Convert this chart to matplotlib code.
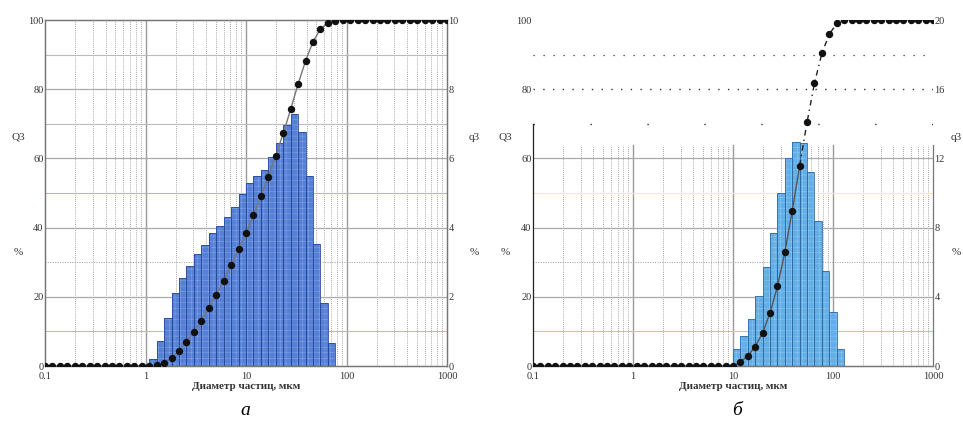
import numpy as np
import matplotlib
matplotlib.use("Agg")
import matplotlib.pyplot as plt
import matplotlib.transforms as mtransforms

plt.rcParams['font.family'] = ['Liberation Serif', 'DejaVu Serif']
plt.rcParams['hatch.linewidth'] = 0.35

# Классы крупности (мкм), общие для обоих анализов
sizes = [0.1, 0.1186, 0.1406, 0.1668, 0.1978, 0.2346, 0.2783, 0.33, 0.3914, 0.4642,
         0.5506, 0.653, 0.7745, 0.9186, 1.0895, 1.292, 1.532, 1.818, 2.154, 2.555,
         3.03, 3.594, 4.263, 5.056, 5.995, 7.111, 8.434, 10.0, 11.86, 14.06,
         16.68, 19.78, 23.46, 27.83, 33.0, 39.14, 46.42, 55.06, 65.3, 77.45,
         91.86, 108.9, 129.2, 153.2, 181.8, 215.4, 255.5, 303.0, 359.4, 426.3,
         505.6, 599.5, 711.1, 843.4, 1000.0]

# а: интегральная кривая Q3 (%) и гистограмма q3 (%)
Q3_a = [0.0] * 15 + [0.3, 0.9, 2.3, 4.4, 7.0, 9.8, 13.1, 16.8, 20.6, 24.6,
                     29.2, 33.8, 38.3, 43.6, 49.1, 54.7, 60.8, 67.2, 74.2, 81.5,
                     88.2, 93.7, 97.4, 99.2, 99.8] + [100.0] * 15
q3_a_start = 14
q3_a = [0.2, 0.73, 1.39, 2.10, 2.55, 2.90, 3.24, 3.51, 3.83, 4.06, 4.30, 4.60, 4.97,
        5.29, 5.49, 5.66, 6.05, 6.45, 6.96, 7.28, 6.77, 5.49, 3.53, 1.81, 0.66]

# б
Q3_b = [0.0] * 28 + [1.2, 2.9, 5.6, 9.6, 15.3, 23.0, 32.9, 44.9, 57.9, 70.5,
                     81.8, 90.4, 95.9, 99.0] + [100.0] * 13
q3_b_start = 27
q3_b = [0.97, 1.73, 2.70, 4.05, 5.74, 7.67, 9.98, 12.0, 12.97, 12.87, 11.2, 8.4,
        5.5, 3.1, 1.0]

xticks = [0.1, 1, 10, 100, 1000]
xticklabels = ['0.1', '1', '10', '100', '1000']

fig = plt.figure(figsize=(9.63, 4.23), dpi=100)


def draw_panel(rect, Q3, q3, start, q3max, q3step, barcolor, hatchcolor, edgecolor,
               hlines, vtop=1.0, damaged=False):
    ax = fig.add_axes(rect)
    ax2 = ax.twinx()
    ax.set_zorder(ax2.get_zorder() + 1)
    ax.patch.set_visible(False)

    ax.set_xscale('log')
    ax.set_xlim(0.1, 1000)
    ax.set_ylim(0, 100)
    ax2.set_ylim(0, q3max)

    # сетка
    trans = mtransforms.blended_transform_factory(ax2.transAxes, ax.transData)
    for dec in [0.1, 1, 10, 100]:
        for m in range(2, 10):
            ax2.axvline(dec * m, ymax=vtop, color='#8a8a8a', lw=0.6,
                        ls=(0, (1, 1.5)), zorder=0)
    for dec in [1, 10, 100]:
        ax2.axvline(dec, ymax=vtop, color='#9a9a9a', lw=1.0, zorder=0)
    for y, col, ls, lw in hlines:
        ax2.plot([0, 1], [y, y], transform=trans, color=col, ls=ls, lw=lw, zorder=0)

    # гистограмма
    edges = sizes[start:start + len(q3) + 1]
    left = edges[:-1]
    width = [edges[i + 1] - edges[i] for i in range(len(q3))]
    ax2.bar(left, q3, width=width, align='edge', color=barcolor,
            edgecolor=hatchcolor, lw=0, hatch='+++', zorder=2)
    ax2.bar(left, q3, width=width, align='edge', fill=False,
            edgecolor=edgecolor, lw=0.6, zorder=3)

    # интегральная кривая
    if damaged:
        cut = 37
        ax.plot(sizes[:cut], Q3[:cut], color='#555555', lw=1.0, zorder=4)
        ax.plot(sizes[cut - 1:], Q3[cut - 1:], color='#222222', lw=1.0,
                ls=(0, (4, 3, 1, 3)), zorder=4)
        ax.plot(sizes, Q3, ls='none', marker='o', ms=4.3, color='#111111', zorder=5)
    else:
        ax.plot(sizes, Q3, color='#777777', lw=1.0, marker='o', ms=4.3,
                mfc='#111111', mec='#111111', zorder=5)

    ax.set_xticks(xticks)
    ax.set_xticklabels(xticklabels)
    ax.xaxis.set_minor_locator(matplotlib.ticker.NullLocator())
    ax.set_yticks(range(0, 101, 20))
    ax2.set_yticks(np.arange(0, q3max + 0.1, q3step))
    ax2.set_yticklabels([f'{int(v)}' for v in np.arange(0, q3max + 0.1, q3step)])
    ax.tick_params(axis='x', length=0, pad=4, labelsize=7.5, colors='#333333')
    ax.tick_params(axis='y', length=0, pad=1, labelsize=7.5, colors='#333333')
    ax2.tick_params(axis='y', length=0, pad=1, labelsize=7.5, colors='#333333')
    ax.set_xlabel('Диаметр частиц, мкм', fontsize=8, fontweight='bold',
                  color='#333333', labelpad=1)

    for a in (ax, ax2):
        for s in a.spines.values():
            s.set_color('#777777')
            s.set_linewidth(0.9)
    if damaged:
        for a in (ax, ax2):
            a.spines['top'].set_visible(False)
        ax.spines['left'].set_bounds(0, 70)
        ax2.spines['left'].set_visible(False)
        ax2.spines['right'].set_bounds(0, q3max * 0.64)
        ax.spines['right'].set_visible(False)
        ax.spines['left'].set_color('#222222')
    return ax, ax2


W, H = 963, 423
rect_a = [45 / W, 1 - 366 / H, 402 / W, 346 / H]
rect_b = [533 / W, 1 - 366 / H, 400 / W, 346 / H]

hl_a = [(20, '#aaaaaa', '-', 0.9), (40, '#aaaaaa', '-', 0.9), (60, '#aaaaaa', '-', 0.9),
        (80, '#aaaaaa', '-', 0.9), (90, '#bbbbbb', '-', 0.8), (70, '#bbbbbb', '-', 0.8),
        (30, '#999999', (0, (1, 1.5)), 0.7), (50, '#f0a58a', '-', 0.8),
        (10, '#9fd3a5', '-', 0.8)]
hl_b = [(20, '#aaaaaa', '-', 0.9), (40, '#aaaaaa', '-', 0.9), (60, '#aaaaaa', '-', 0.9),
        (30, '#999999', (0, (1, 1.5)), 0.7), (50, '#f3ecb8', '-', 0.8),
        (10, '#a8d8a8', '-', 0.8), (90, '#333333', (0, (1, 7)), 0.9),
        (80, '#333333', (0, (1, 6)), 1.0), (70, '#333333', (0, (1, 40)), 1.0)]

draw_panel(rect_a, Q3_a, q3_a, q3_a_start, 10, 2, '#5580d6', '#86a6e6', '#28489a', hl_a)
draw_panel(rect_b, Q3_b, q3_b, q3_b_start, 20, 4, '#62aee6', '#93c8ee', '#2f6aa4', hl_b,
           vtop=0.64, damaged=True)

tk = dict(fontsize=8, color='#333333', ha='center', va='center')
for x in (18, 505):
    fig.text(x / W, 1 - 137 / H, 'Q3', **tk)
    fig.text(x / W, 1 - 252 / H, '%', **tk)
for x in (474, 956):
    fig.text(x / W, 1 - 137 / H, 'q3', **tk)
    fig.text(x / W, 1 - 252 / H, '%', **tk)

fig.text(245 / W, 1 - 410 / H, 'а', fontsize=14, style='italic', ha='center', va='center')
fig.text(737 / W, 1 - 410 / H, 'б', fontsize=14, style='italic', ha='center', va='center')

fig.savefig('out.png', dpi=100, facecolor='white')
